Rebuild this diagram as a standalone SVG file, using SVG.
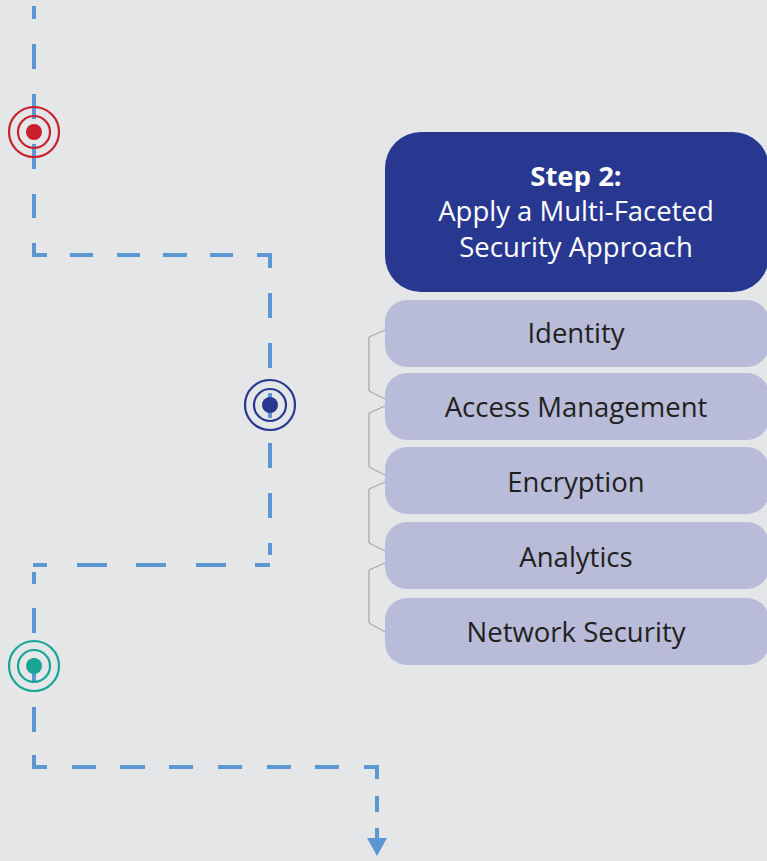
<svg xmlns="http://www.w3.org/2000/svg" width="767" height="861" viewBox="0 0 767 861">
  <defs>
    <style>
      .dash { fill: none; stroke: #5b97d3; stroke-width: 4; stroke-linecap: butt; }
      .ring { fill: none; stroke-width: 2.2; }
      .brace { fill: none; stroke: #9a9a9a; stroke-width: 1; }
      .item rect { fill: #b8bcd8; }
      .item text { font-family: "Open Sans", "Liberation Sans", sans-serif; font-size: 27.5px; fill: #231f20; text-anchor: middle; }
      .head text { font-family: "Open Sans", "Liberation Sans", sans-serif; font-size: 27.5px; fill: #ffffff; text-anchor: middle; }
    </style>
  </defs>

  <rect width="767" height="861" fill="#e5e6e8"/>

  <!-- dashed route, drawn dash by dash -->
  <g id="connectors">
    <path class="dash" d="
      M34 6 V19 M34 44 V69 M34 94 V119 M34 144 V169 M34 194 V218
      M34 243 V255 H47
      M70 255 H93 M117 255 H140 M163 255 H187 M210 255 H233
      M257 255 H270 V268
      M270 293 V318 M270 343 V368 M270 393 V418 M270 443 V468 M270 493 V518 M270 543 V555
      M255 565 H270
      M196 565 H226 M136 565 H166 M77 565 H107 M33 565 H47
      M34 572 V584 M34 608 V633 M34 658 V683 M34 707 V732
      M34 755 V767 H47
      M72 767 H96 M120 767 H145 M169 767 H193 M218 767 H242 M267 767 H291 M315 767 H339
      M364 767 H377 V779
      M377 796 V812 M377 828 V840"/>
    <polygon points="367,838 387,838 377,856" fill="#5b97d3"/>
    <!-- braces joining the list items -->
    <path class="brace" d="M385 330 L369 337 V391 L385 399"/>
    <path class="brace" d="M385 406 L369 413 V467 L385 475"/>
    <path class="brace" d="M385 482 L369 489 V543 L385 551"/>
    <path class="brace" d="M385 563 L369 570 V623 L385 632"/>
  </g>

  <!-- milestones -->
  <g id="marker-red">
    <circle class="ring" cx="34" cy="132" r="25" stroke="#c8202f"/>
    <circle class="ring" cx="34" cy="132" r="16" stroke="#c8202f"/>
    <circle cx="34" cy="132" r="8" fill="#c8202f"/>
  </g>
  <g id="marker-blue">
    <circle class="ring" cx="270" cy="405" r="25" stroke="#283891"/>
    <circle class="ring" cx="270" cy="405" r="16" stroke="#283891"/>
    <circle cx="270" cy="405" r="8" fill="#283891"/>
  </g>
  <g id="marker-teal">
    <circle class="ring" cx="34" cy="666" r="25" stroke="#17a596"/>
    <circle class="ring" cx="34" cy="666" r="16" stroke="#17a596"/>
    <circle cx="34" cy="666" r="8" fill="#17a596"/>
  </g>

  <!-- step heading -->
  <g id="step2" class="head">
    <rect x="385" y="132" width="384" height="160" rx="36" fill="#283891"/>
    <text x="576" y="186" font-weight="bold">Step 2:</text>
    <text x="576" y="221">Apply a Multi-Faceted</text>
    <text x="576" y="257">Security Approach</text>
  </g>

  <!-- security layers -->
  <g id="identity" class="item">
    <rect x="385" y="300" width="384" height="67" rx="22"/>
    <text x="576" y="343">Identity</text>
  </g>
  <g id="access-management" class="item">
    <rect x="385" y="373" width="384" height="67" rx="22"/>
    <text x="576" y="417">Access Management</text>
  </g>
  <g id="encryption" class="item">
    <rect x="385" y="447" width="384" height="67" rx="22"/>
    <text x="576" y="492">Encryption</text>
  </g>
  <g id="analytics" class="item">
    <rect x="385" y="522" width="384" height="67" rx="22"/>
    <text x="576" y="567">Analytics</text>
  </g>
  <g id="network-security" class="item">
    <rect x="385" y="598" width="384" height="67" rx="22"/>
    <text x="576" y="642">Network Security</text>
  </g>
</svg>
